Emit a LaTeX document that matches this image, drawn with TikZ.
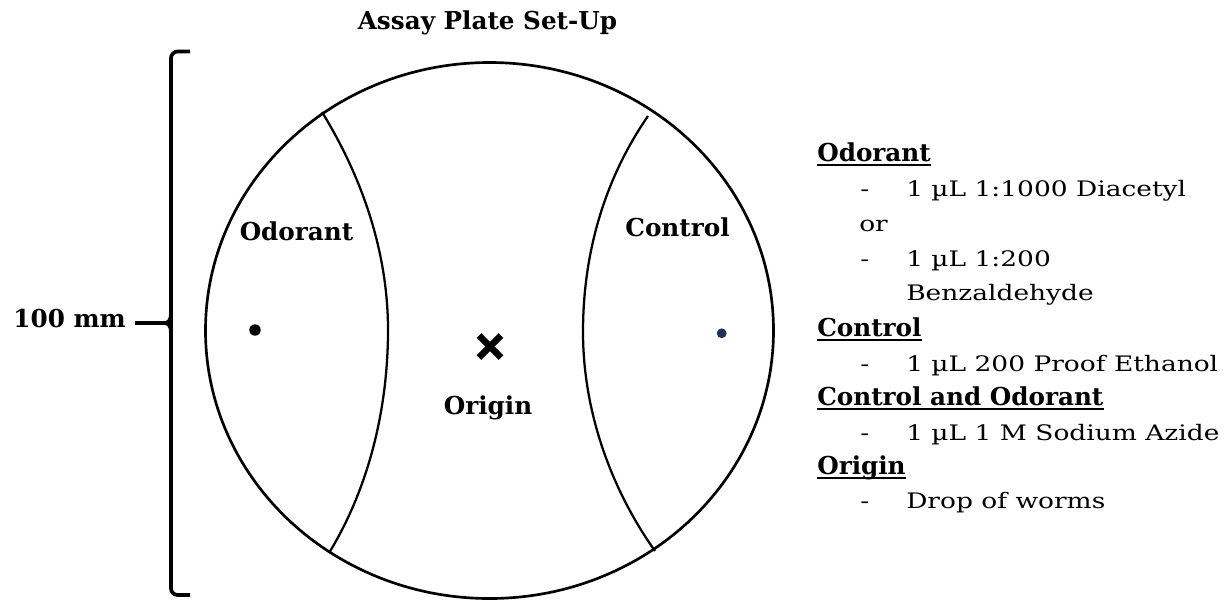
\documentclass[tikz,border=0pt]{standalone}
\usepackage{fontspec}
\setmainfont{DejaVu Serif}
\newfontfamily\listfont{DejaVu Serif}[FakeStretch=1.24]
\definecolor{dotblue}{HTML}{1F3358}
\begin{document}
\begin{tikzpicture}[x=0.75pt,y=-0.75pt,
  lbl/.style={font=\fontsize{18.5}{22}\selectfont\bfseries, inner sep=0pt},
  head/.style={lbl, anchor=base west},
  item/.style={font=\listfont\fontsize{16}{19}\selectfont, inner sep=0pt, anchor=base west},
  ul/.style={line width=1.5pt},
  plate/.style={line width=2pt},
  divider/.style={line width=1.7pt},
  brace/.style={line width=2.8pt},
]
\useasboundingbox (0,0) rectangle (1225,601);

% title and scale label
\node[lbl, anchor=base] (title) at (487.5,29) {Assay Plate Set-Up};
\node[lbl, anchor=base east] (scale) at (126,327) {100 mm};

% brace marking the plate diameter
\coordinate (tip) at (164,323);
\coordinate (tail) at (135,323);
\draw[brace, rounded corners=5pt] (190,51.5) -- (171,51.5) -- (171,595) -- (190,595);
\draw[brace] (171,313) .. controls (171,320) and (169,323) .. (tip)
             .. controls (169,323) and (171,326) .. (171,333);
\draw[brace] (tail) -- (tip);

% the plate
\coordinate (centre) at (489.5,330.5);
\draw[plate] (centre) ellipse [x radius=213pt, y radius=201pt];

% zone boundaries
\draw[divider] (322,112) .. controls (362.5,178) and (388,252.5) .. (388,330)
               .. controls (388,407.5) and (369.4,486.8) .. (329,553);
\draw[divider] (648,116) .. controls (603.8,180.1) and (583,254.2) .. (583,332)
               .. controls (583,409.8) and (610,487.5) .. (655,551);

% spots and origin mark
\fill (255,330) circle[radius=4.3pt];
\fill[dotblue] (721.7,333.3) circle[radius=3.7pt];
\coordinate (xm) at (490,346.5);
\draw[line width=5pt] ([shift={(-11,-11)}]xm) -- ([shift={(11,11)}]xm);
\draw[line width=5pt] ([shift={(-11,11)}]xm) -- ([shift={(11,-11)}]xm);

% zone labels
\node[lbl, anchor=base] (lOd) at (296.5,240) {Odorant};
\node[lbl, anchor=base] (lCo) at (677.5,236) {Control};
\node[lbl, anchor=base] (lOr) at (488,414) {Origin};

% legend
\node[head] (hOd) at (817,161) {Odorant};
\node[item] (d1) at (860,196) {-};
\node[item] (t1) at (906,196) {1 µL 1:1000 Diacetyl};
\node[item] (or) at (859,231) {or};
\node[item] (d2) at (860,266) {-};
\node[item] (t2) at (906,266) {1 µL 1:200};
\node[item] (t2b) at (906,300) {Benzaldehyde};
\node[head] (hCo) at (817,336) {Control};
\node[item] (d3) at (860,371) {-};
\node[item] (t3) at (906,371) {1 µL 200 Proof Ethanol};
\node[head] (hCaO) at (817,405) {Control and Odorant};
\node[item] (d4) at (860,440) {-};
\node[item] (t4) at (906,440) {1 µL 1 M Sodium Azide};
\node[head] (hOr) at (817,474) {Origin};
\node[item] (d5) at (860,508) {-};
\node[item] (t5) at (906,508) {Drop of worms};

\foreach \h in {hOd,hCo,hCaO,hOr}
  \draw[ul] ([yshift=-3pt]\h.base west) -- ([yshift=-3pt]\h.base east);
\end{tikzpicture}
\end{document}
